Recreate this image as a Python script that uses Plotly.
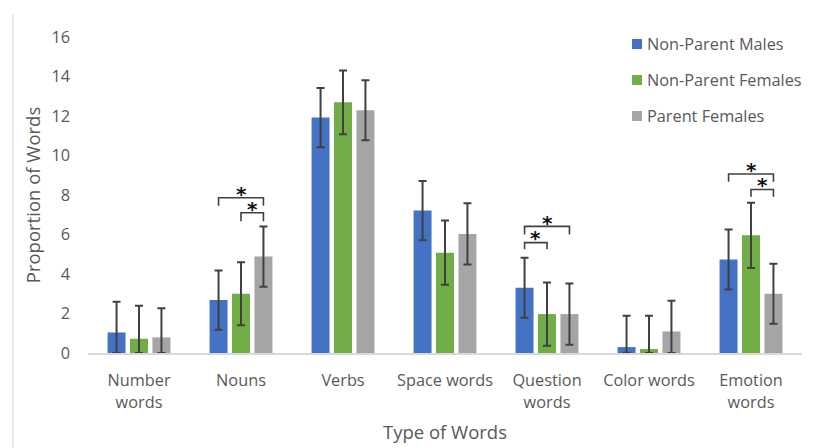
import plotly.graph_objects as go

categories = ["Number<br>words", "Nouns", "Verbs", "Space words", "Question<br>words", "Color words", "Emotion<br>words"]
series_names = ["Non-Parent Males", "Non-Parent Females", "Parent Females"]
males = [1.04, 2.68, 11.92, 7.21, 3.30, 0.30, 4.73]
males_err = [1.55, 1.50, 1.50, 1.50, 1.52, 1.58, 1.52]
nonparent_females = [0.72, 3.00, 12.69, 5.08, 1.97, 0.20, 5.96]
nonparent_females_err = [1.67, 1.60, 1.62, 1.63, 1.60, 1.68, 1.65]
parent_females = [0.79, 4.88, 12.29, 6.03, 1.97, 1.09, 3.00]
parent_females_err = [1.48, 1.52, 1.52, 1.55, 1.55, 1.55, 1.52]
y_ticks = [0, 2, 4, 6, 8, 10, 12, 14, 16]

# significance brackets: (category index, series a, series b, bracket y, drop y, star y)
brackets = [
    (1, 0, 2, 7.86, 7.45, 8.05),
    (1, 1, 2, 7.10, 6.67, 7.28),
    (4, 0, 2, 6.41, 6.00, 6.60),
    (4, 0, 1, 5.59, 5.25, 5.80),
    (6, 0, 2, 9.06, 8.67, 9.28),
    (6, 1, 2, 8.28, 7.91, 8.50),
]

colors = ["#4472C4", "#70AD47", "#A5A5A5"]
err_color = "#404040"
text_color = "#595959"
bargap = 0.34
bargroupgap = 0.2
slot = (1 - bargap) / 3
offsets = [-slot, 0, slot]

# figure geometry (page body adds an 8px offset)
W, H = 806, 440
ML, MR, MT, MB = 80, 12, 29, 95
PW = W - ML - MR
PH = H - MT - MB


def px_x(wx):
    return (wx - 8 - ML) / PW


def px_y(wy):
    return (H - MB - (wy - 8)) / PH


fig = go.Figure()
all_vals = [males, nonparent_females, parent_females]
all_errs = [males_err, nonparent_females_err, parent_females_err]
for i, name in enumerate(series_names):
    vals = all_vals[i]
    errs = all_errs[i]
    fig.add_trace(go.Bar(
        x=categories, y=vals, name=name,
        marker=dict(color=colors[i], line=dict(width=0)),
        showlegend=False,
        error_y=dict(type="data", array=errs,
                     arrayminus=[min(e, v) for e, v in zip(errs, vals)],
                     color=err_color, thickness=2, width=4),
    ))

for (ci, a, b, yb, yd, ys) in brackets:
    xa = ci + offsets[a]
    xb = ci + offsets[b]
    fig.add_shape(type="path", xref="x", yref="y",
                  path=f"M {xa},{yd} L {xa},{yb} L {xb},{yb} L {xb},{yd}",
                  line=dict(color=err_color, width=1.6))
    fig.add_annotation(x=(xa + xb) / 2, y=ys, xref="x", yref="y", text="<b>*</b>",
                       showarrow=False, font=dict(size=20, color="#111111",
                                                  family="DejaVu Sans"),
                       yanchor="middle")

# legend drawn by hand to match spacing
legend_rows = [44, 80, 116]
for i, name in enumerate(series_names):
    wy = legend_rows[i]
    fig.add_shape(type="rect", xref="paper", yref="paper",
                  x0=px_x(632), x1=px_x(642), y0=px_y(wy + 5), y1=px_y(wy - 5),
                  fillcolor=colors[i], line=dict(width=0))
    fig.add_annotation(x=px_x(645), y=px_y(wy), xref="paper", yref="paper",
                       text=name, showarrow=False, xanchor="left", yanchor="middle",
                       font=dict(size=16.3, color=text_color))

# faint chart-frame edge on the left
fig.add_shape(type="line", xref="paper", yref="paper", x0=px_x(13), x1=px_x(13),
              y0=px_y(460), y1=px_y(14), line=dict(color="#E6E6E6", width=1.5))

font_family = "Open Sans, Noto Sans, sans-serif"
fig.update_layout(
    width=W, height=H,
    margin=dict(l=ML, r=MR, t=MT, b=MB, autoexpand=False),
    paper_bgcolor="white", plot_bgcolor="white",
    barmode="group", bargap=bargap, bargroupgap=bargroupgap,
    font=dict(family=font_family, size=16, color=text_color),
    showlegend=False,
    xaxis=dict(showline=True, linecolor="#D9D9D9", linewidth=1.5,
               ticks="", tickfont=dict(size=16.3, color=text_color),
               ticklabelstandoff=12,
               title=dict(text="Type of Words", font=dict(size=18.5, color=text_color),
                          standoff=15),
               showgrid=False, zeroline=False),
    yaxis=dict(range=[0, 16], tickvals=y_ticks, showgrid=False, zeroline=False,
               showline=False, ticks="", tickfont=dict(size=16.3, color=text_color),
               ticklabelstandoff=17,
               title=dict(text="Proportion of Words", font=dict(size=18.5, color=text_color),
                          standoff=5)),
)

fig.write_html("out.html")
